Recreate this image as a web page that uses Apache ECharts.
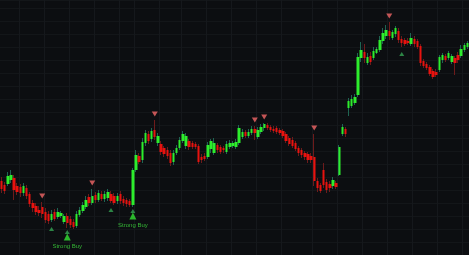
<!DOCTYPE html>
<html>
<head>
<meta charset="utf-8">
<script src="https://cdn.jsdelivr.net/npm/echarts@6/dist/echarts.min.js"></script>
<style>
html,body{margin:0;padding:0;background:#0c0e11;}
#chart{width:469px;height:255px;}
</style>
</head>
<body>
<div id="chart"></div>
<script>
// [open, close, low, high]
const ohlc = [
[98.4,97.6,97.2,98.8],[98.0,97.4,97.1,98.3],[98.1,98.9,97.9,99.3],[98.5,99.0,98.2,99.5],[98.7,97.5,96.5,99.0],
[97.9,97.3,97.0,98.2],[97.8,97.2,96.8,98.1],[97.2,97.9,96.9,98.2],[97.7,96.9,96.6,98.0],[97.1,96.1,95.8,97.3],
[96.2,95.7,95.3,96.5],[95.9,95.3,95.0,96.2],[95.5,95.2,94.9,95.9],[95.8,95.1,94.7,96.3],[95.3,94.5,94.2,95.7],
[95.1,94.4,94.1,95.4],[94.5,95.1,94.3,95.5],[95.3,94.6,94.4,95.6],[94.8,95.3,94.6,95.7],[94.9,95.2,94.7,95.4],
[94.3,94.9,94.1,95.1],[94.9,94.2,93.7,95.2],[94.6,94.0,93.7,94.9],[94.3,93.8,93.6,94.6],[93.9,95.1,93.7,95.4],
[95.0,95.5,94.8,95.8],[95.4,96.0,95.2,96.3],[95.8,96.5,95.6,96.9],[96.8,96.2,95.9,97.1],[96.2,96.9,96.0,97.6],
[97.0,96.5,96.2,97.3],[96.5,97.2,96.3,97.5],[97.1,96.6,96.4,97.4],[96.6,97.1,96.3,97.4],[96.7,97.3,96.4,97.6],
[97.1,96.4,96.2,97.4],[96.9,96.2,96.0,97.2],[96.4,96.9,96.1,97.2],[97.1,96.4,96.1,97.4],[96.6,96.2,95.9,96.9],
[96.5,96.1,95.8,96.7],[96.4,96.0,95.8,96.6],[96.0,99.5,95.8,99.7],[99.5,101.0,99.3,101.5],[100.9,100.3,100.1,101.2],
[100.5,102.3,100.2,102.7],[102.2,103.2,101.9,103.5],[103.1,102.4,102.1,103.4],[102.6,103.4,102.3,103.7],[103.5,102.8,102.5,104.5],
[102.2,102.9,101.9,103.2],[102.1,101.3,101.0,102.4],[101.7,101.1,100.8,101.9],[101.5,100.9,100.6,101.8],[101.2,100.2,99.9,101.5],
[100.3,101.2,100.0,101.5],[101.2,101.7,101.0,102.0],[101.7,102.5,101.5,102.8],[102.4,103.1,102.2,103.4],[101.9,102.9,101.6,103.2],
[102.4,101.8,101.5,102.6],[102.2,101.8,101.6,102.4],[102.1,101.8,101.6,102.3],[101.9,100.3,100.1,102.1],[100.8,100.5,100.2,101.1],
[100.9,100.6,100.4,101.2],[100.8,102.0,100.6,102.3],[101.6,102.4,101.2,102.6],[101.2,102.2,101.0,102.7],[102.0,101.5,101.2,102.2],
[101.8,101.3,101.1,102.0],[101.7,101.5,101.2,101.9],[101.3,102.1,101.1,102.4],[101.8,102.2,101.6,102.5],[101.9,102.2,101.7,102.4],
[101.8,102.3,101.6,102.6],[102.2,103.7,102.0,104.0],[102.8,103.3,102.6,103.6],[103.3,102.9,102.7,103.5],[102.9,103.3,102.7,103.6],
[103.2,103.6,103.0,103.9],[103.6,103.2,102.5,103.9],[102.8,103.5,102.6,103.8],[103.3,103.8,103.1,104.1],[103.7,104.1,103.4,104.2],
[104.0,103.7,103.5,104.2],[103.8,103.5,103.3,104.0],[103.6,103.4,103.2,103.9],[103.7,103.3,103.1,103.9],[103.5,103.2,103.0,103.7],
[103.4,102.9,102.7,103.6],[103.1,102.4,102.2,103.3],[102.7,102.1,101.9,102.9],[102.5,101.9,101.7,102.8],[102.2,101.6,101.4,102.4],
[101.7,101.2,100.9,101.9],[101.5,101.0,100.7,101.7],[101.2,100.8,100.5,101.4],[101.1,100.5,100.2,101.3],[100.9,100.5,100.2,101.2],
[100.8,98.4,97.9,103.1],[98.4,97.7,97.3,98.7],[98.0,97.4,97.2,98.2],[99.5,98.0,97.7,100.2],[98.3,97.5,97.2,98.6],
[98.1,97.7,97.3,98.4],[97.9,98.5,97.6,98.8],[98.2,97.8,97.6,98.4],[99.0,101.8,98.9,102.0],[103.1,103.8,102.9,104.1],
[103.6,103.1,102.8,103.8],[105.7,106.4,104.9,106.7],[105.9,106.6,105.7,107.0],[106.2,106.8,106.0,107.1],[107.0,110.8,106.8,111.2],
[110.7,111.5,110.3,112.3],[111.3,110.7,110.2,112.1],[110.2,110.8,110.0,111.2],[110.9,110.3,110.0,111.3],[110.7,111.4,110.5,111.8],
[111.2,111.6,111.1,111.8],[111.5,112.5,111.3,112.9],[112.4,113.2,112.1,113.7],[112.9,113.5,112.6,114.0],[113.4,112.9,112.5,114.3],
[112.7,113.3,112.5,113.5],[113.1,113.7,112.8,113.9],[113.4,112.5,112.2,113.7],[112.6,112.2,111.8,112.9],[112.5,112.1,111.9,112.7],
[112.4,112.2,112.0,112.7],[112.1,112.7,111.9,113.2],[112.6,112.1,111.8,112.9],[112.4,111.8,111.6,112.6],[111.9,110.2,109.9,112.1],
[110.4,109.9,109.7,110.6],[110.1,109.7,109.5,110.3],[109.8,109.1,108.9,110.0],[109.4,108.8,108.6,109.6],[109.3,109.0,108.8,109.6],
[109.5,110.8,109.3,111.0],[110.5,111.0,110.2,111.2],[110.9,110.5,110.3,111.1],[110.7,111.2,110.5,111.4],[110.3,110.9,110.1,111.1],
[110.7,110.2,109.0,110.9],[111.0,110.5,110.2,111.3],[110.9,111.6,110.7,112.0],[111.5,112.0,111.3,112.2],[111.8,112.2,111.6,112.4]
];
// signal candles (index into ohlc)
const sellSignals = [13, 29, 49, 81, 84, 100, 124];
const buySignals = [16, 35, 128];
const strongBuySignals = [21, 42];
const strongBuyText = 'Strong Buy';

const categories = ohlc.map((_, i) => 'T' + (i + 1));
const gridCols = new Set([6,14,22,30,38,43,51,58,66,74,82,90,100,108,116,124,132,140,148]);

const UP = '#2ded2d', DOWN = '#e8120f';
const UP_WICK = '#1f6552', DOWN_WICK = '#6e1b1b';

const bodies = ohlc.map(([o, c]) => [o, c, Math.min(o, c), Math.max(o, c)]);
const sellPts = sellSignals.map(i => [i, ohlc[i][3]]);
const buyPts = buySignals.map(i => [i, ohlc[i][2]]);
const sbPts = strongBuySignals.map(i => [i, ohlc[i][2]]);

const chart = echarts.init(document.getElementById('chart'), null, {renderer: 'canvas'});
chart.setOption({
  backgroundColor: '#0c0e11',
  animation: false,
  grid: {left: 0, right: 0, top: 0, bottom: 0},
  xAxis: {
    type: 'category', data: categories, boundaryGap: true,
    axisLine: {show: false}, axisTick: {show: false}, axisLabel: {show: false},
    splitLine: {show: true, interval: (idx) => gridCols.has(idx), lineStyle: {color: '#15181c', width: 1}}
  },
  yAxis: {
    type: 'value', min: 91, max: 116.5, interval: 1.3, scale: false,
    axisLine: {show: false}, axisTick: {show: false}, axisLabel: {show: false},
    splitLine: {show: true, lineStyle: {color: '#131619', width: 1}}
  },
  series: [
    {
      type: 'candlestick', data: ohlc, barWidth: 1, silent: true,
      itemStyle: {color: UP_WICK, color0: DOWN_WICK, borderColor: UP_WICK, borderColor0: DOWN_WICK, borderWidth: 1}
    },
    {
      type: 'candlestick', data: bodies, barWidth: 2.9, silent: true,
      itemStyle: {color: UP, color0: DOWN, borderColor: UP, borderColor0: DOWN, borderWidth: 0}
    },
    {
      type: 'scatter', data: sellPts, symbol: 'triangle', symbolRotate: 180, symbolSize: [6, 5],
      symbolOffset: [0, -6], silent: true, z: 5,
      itemStyle: {color: '#f26868'}
    },
    {
      type: 'scatter', data: buyPts, symbol: 'triangle', symbolSize: [5, 4],
      symbolOffset: [0, 7], silent: true, z: 5,
      itemStyle: {color: '#35a352'}
    },
    {
      type: 'scatter', data: sbPts, symbol: 'triangle', symbolSize: [5, 4],
      symbolOffset: [0, 4], silent: true, z: 5,
      itemStyle: {color: '#35a352'}
    },
    {
      type: 'scatter', data: sbPts, symbol: 'triangle', symbolSize: [7, 7],
      symbolOffset: [0, 9], silent: true, z: 6,
      itemStyle: {color: '#33e433'},
      label: {
        show: true, position: 'bottom', distance: 3, formatter: strongBuyText,
        color: '#3fdd3f', fontSize: 6, fontFamily: 'Liberation Sans'
      }
    }
  ]
});
</script>
</body>
</html>
